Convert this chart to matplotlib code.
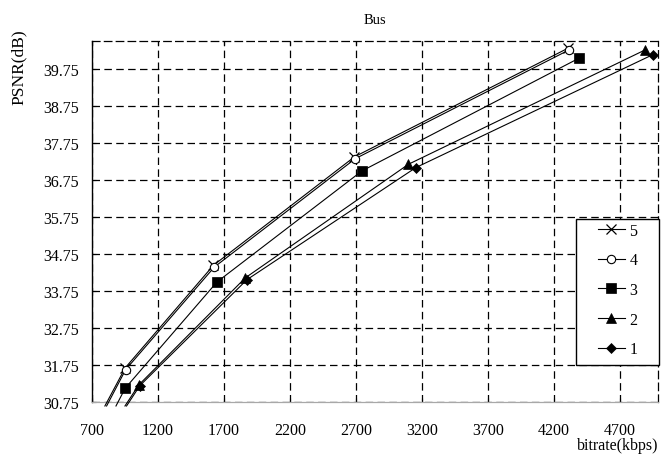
import matplotlib
matplotlib.use("Agg")
import matplotlib.pyplot as plt
from matplotlib.patches import Rectangle
from matplotlib.lines import Line2D

plt.rcParams['font.family'] = ['Liberation Serif', 'DejaVu Serif']

# bitrate (kbps) / PSNR (dB); first point of each curve sits just under the plot
bitrate_5 = [800, 954, 1622, 2690, 4310]
psnr_5 = [30.65, 31.68, 34.45, 37.38, 40.32]
bitrate_4 = [813, 957, 1628, 2696, 4316]
psnr_4 = [30.65, 31.63, 34.40, 37.33, 40.27]
bitrate_3 = [884, 954, 1649, 2747, 4388]
psnr_3 = [30.65, 31.13, 34.00, 37.00, 40.04]
bitrate_2 = [952, 1057, 1863, 3099, 4892]
psnr_2 = [30.65, 31.22, 34.11, 37.18, 40.27]
bitrate_1 = [964, 1065, 1875, 3155, 4949]
psnr_1 = [30.65, 31.20, 34.06, 37.09, 40.14]

series = [
    ("5", bitrate_5, psnr_5, dict(marker="x", ms=7, mfc="black", mew=0.9)),
    ("4", bitrate_4, psnr_4, dict(marker="o", ms=6, mfc="white", mew=0.8)),
    ("3", bitrate_3, psnr_3, dict(marker="s", ms=6.5, mfc="black", mew=0.5)),
    ("2", bitrate_2, psnr_2, dict(marker="^", ms=7, mfc="black", mew=0.5)),
    ("1", bitrate_1, psnr_1, dict(marker="D", ms=5.5, mfc="black", mew=0.5)),
]

x_ticks = [700, 1200, 1700, 2200, 2700, 3200, 3700, 4200, 4700]
y_ticks = [30.75, 31.75, 32.75, 33.75, 34.75, 35.75, 36.75, 37.75, 38.75, 39.75]

fig = plt.figure(figsize=(6.61, 4.60), dpi=100)
ax = fig.add_axes([0.1387, 0.1233, 0.8563, 0.7847])

handles = []
for name, x, y, st in series:
    ax.plot(x, y, color="black", lw=0.8, mec="black", markevery=list(range(1, len(x))),
            clip_on=False, zorder=3, **st)
    handles.append(Line2D([0], [0], color="black", lw=0.8, mec="black", label=name, **st))

ax.set_xlim(700, 4986)
ax.set_ylim(30.75, 40.5)
ax.set_xticks(x_ticks)
ax.set_yticks(y_ticks)
ax.set_yticklabels(["%.2f" % v for v in y_ticks])

ax.grid(True, color="black", lw=0.9, linestyle=(0, (6, 3.5)))
ax.set_axisbelow(True)

ax.spines["left"].set_linewidth(1.0)
ax.spines["bottom"].set_color("#a8a8a8")
ax.spines["bottom"].set_linewidth(0.9)
for s in ("top", "right"):
    ax.spines[s].set_linestyle((0, (6, 3.5)))
    ax.spines[s].set_linewidth(0.9)

ax.tick_params(axis="x", direction="in", length=3, width=0.8, top=True, pad=14, labelsize=11.5)
ax.tick_params(axis="y", direction="in", length=3, width=0.8, pad=9, labelsize=11.5)

ax.set_title("Bus", fontsize=10.5, pad=13)
ax.set_xlabel("bitrate(kbps)", fontsize=11.5, loc="right")
ax.xaxis.set_label_coords(1.002, -0.096)
ax.set_ylabel("PSNR(dB)", fontsize=12.5, loc="top")
ax.yaxis.set_label_coords(-0.114, 1.037)

# legend box
ax.add_patch(Rectangle((0.856, 0.103), 0.146, 0.405, transform=ax.transAxes,
                       facecolor="white", edgecolor="black", lw=1.0, zorder=5, clip_on=False))
leg = ax.legend(handles=handles, loc="upper left", bbox_to_anchor=(0.895, 0.498),
                frameon=False, fontsize=11.5, handlelength=1.65, handletextpad=0.3,
                labelspacing=0.86, borderpad=0, borderaxespad=0)
leg.set_zorder(6)

fig.savefig("out.png", dpi=100)
